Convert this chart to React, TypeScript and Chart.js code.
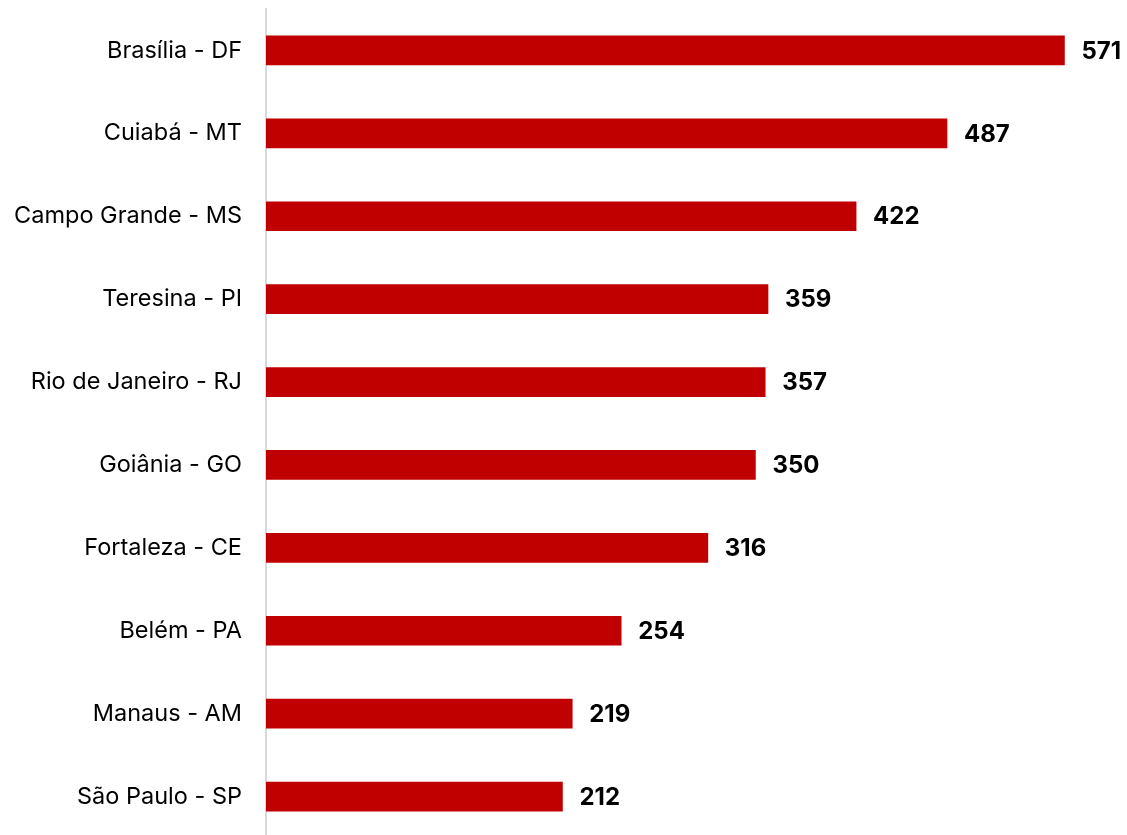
import React, { useEffect, useRef } from "react";
import { Chart, registerables } from "chart.js";

Chart.register(...registerables);

const categories = [
  "Brasília - DF",
  "Cuiabá - MT",
  "Campo Grande - MS",
  "Teresina - PI",
  "Rio de Janeiro - RJ",
  "Goiânia - GO",
  "Fortaleza - CE",
  "Belém - PA",
  "Manaus - AM",
  "São Paulo - SP",
];
const values = [571, 487, 422, 359, 357, 350, 316, 254, 219, 212];
const xMax = 600;

const valueLabels = {
  id: "valueLabels",
  afterDatasetsDraw(chart: any) {
    const ctx = chart.ctx;
    const meta = chart.getDatasetMeta(0);
    ctx.save();
    ctx.font = "bold 24px Inter";
    ctx.fillStyle = "#000000";
    ctx.textAlign = "left";
    ctx.textBaseline = "middle";
    meta.data.forEach((bar: any, i: number) => {
      ctx.fillText(String(values[i]), bar.x + 17, bar.y + 1);
    });
    ctx.restore();
  },
};

export default function App() {
  const ref = useRef<HTMLCanvasElement>(null);
  useEffect(() => {
    if (!ref.current) return;
    const chart = new Chart(ref.current, {
      type: "bar",
      data: {
        labels: categories,
        datasets: [
          {
            data: values,
            backgroundColor: "#C00000",
            borderWidth: 0,
            barThickness: 29,
          },
        ],
      },
      options: {
        indexAxis: "y",
        animation: false,
        responsive: false,
        maintainAspectRatio: false,
        layout: { padding: { top: 9, bottom: 0, right: 22, left: 0 } },
        plugins: { legend: { display: false }, tooltip: { enabled: false } },
        scales: {
          x: { display: false, min: 0, max: xMax },
          y: {
            grid: { display: false, drawTicks: true, tickLength: 24 },
            border: { display: true, color: "#d9d9d9", width: 2 },
            ticks: {
              color: "#000000",
              font: { family: "Inter", size: 23.5 },
              padding: 0,
            },
            afterFit: (scale: any) => {
              scale.width = 266;
              scale.paddingTop = 0;
              scale.paddingBottom = 0;
            },
          },
        },
      },
      plugins: [valueLabels],
    } as any);
    return () => chart.destroy();
  }, []);
  return (
    <div style={{ position: "fixed", left: 0, top: 0, width: 1127, height: 835, overflow: "hidden", background: "#fff" }}>
      <canvas ref={ref} width={1127} height={838} style={{ display: "block" }} />
    </div>
  );
}
